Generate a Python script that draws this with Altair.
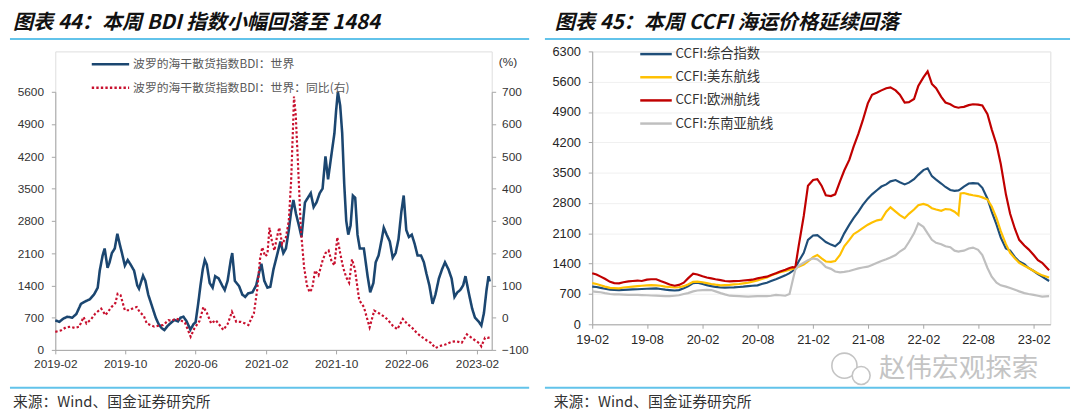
import altair as alt
import pandas as pd

# ---------------- data ----------------
bdi_dates = [
    "2019-02-01", "2019-02-15", "2019-03-01", "2019-03-15", "2019-04-01", "2019-04-15", "2019-05-01", "2019-05-15",
    "2019-06-01", "2019-06-15", "2019-06-28", "2019-07-05", "2019-07-15", "2019-07-22", "2019-08-01", "2019-08-08",
    "2019-08-16", "2019-08-26", "2019-09-04", "2019-09-12", "2019-09-20", "2019-09-30", "2019-10-10", "2019-10-20",
    "2019-11-01", "2019-11-12", "2019-11-18", "2019-12-02", "2019-12-10", "2019-12-20", "2020-01-02", "2020-01-15",
    "2020-01-25", "2020-02-05", "2020-02-14", "2020-02-25", "2020-03-10", "2020-03-20", "2020-04-01", "2020-04-10",
    "2020-04-20", "2020-05-01", "2020-05-14", "2020-05-25", "2020-06-01", "2020-06-10", "2020-06-18", "2020-06-26",
    "2020-07-03", "2020-07-10", "2020-07-20", "2020-07-30", "2020-08-08", "2020-08-20", "2020-09-01", "2020-09-10",
    "2020-09-20", "2020-10-01", "2020-10-06", "2020-10-15", "2020-10-30", "2020-11-10", "2020-11-20", "2020-12-01",
    "2020-12-15", "2020-12-28", "2021-01-08", "2021-01-15", "2021-01-25", "2021-02-05", "2021-02-15", "2021-02-26",
    "2021-03-10", "2021-03-22", "2021-04-01", "2021-04-10", "2021-04-20", "2021-04-28", "2021-05-06", "2021-05-15",
    "2021-05-25", "2021-06-03", "2021-06-15", "2021-06-25", "2021-07-05", "2021-07-15", "2021-07-25", "2021-08-05",
    "2021-08-15", "2021-08-25", "2021-09-03", "2021-09-15", "2021-09-25", "2021-10-01", "2021-10-07", "2021-10-15",
    "2021-10-22", "2021-10-29", "2021-11-05", "2021-11-12", "2021-11-20", "2021-11-28", "2021-12-06", "2021-12-14",
    "2021-12-22", "2022-01-05", "2022-01-18", "2022-01-27", "2022-02-07", "2022-02-15", "2022-02-25", "2022-03-08",
    "2022-03-15", "2022-03-25", "2022-04-05", "2022-04-15", "2022-04-25", "2022-05-05", "2022-05-15", "2022-05-23",
    "2022-06-01", "2022-06-10", "2022-06-20", "2022-06-30", "2022-07-10", "2022-07-22", "2022-08-01", "2022-08-10",
    "2022-08-20", "2022-08-31", "2022-09-10", "2022-09-22", "2022-10-03", "2022-10-13", "2022-10-25", "2022-11-05",
    "2022-11-15", "2022-11-25", "2022-12-05", "2022-12-15", "2022-12-23", "2023-01-03", "2023-01-15", "2023-01-25",
    "2023-02-06", "2023-02-16", "2023-02-25", "2023-03-06", "2023-03-13", "2023-03-17",
]
bdi_values = [
    640, 610, 680, 720, 700, 780, 1000, 1050,
    1100, 1200, 1350, 1720, 2050, 2200, 1780, 1900,
    2100, 2200, 2520, 2300, 2100, 1830, 1950, 1850,
    1720, 1400, 1330, 1610, 1500, 1200, 950, 700,
    560, 470, 430, 520, 600, 650, 620, 700,
    720, 620, 440, 560, 600, 1000, 1400, 1750,
    1950, 1850, 1450, 1350, 1600, 1550, 1400, 1300,
    1500, 1950, 2100, 1500, 1380, 1200, 1150, 1230,
    1250, 1400, 1700, 1870, 1500, 1350, 1370, 1750,
    2050, 2350, 2100, 2200, 2600, 3000, 3250, 2950,
    2700, 2450, 3200, 3300, 3400, 3100, 3200, 3400,
    3500, 4200, 3700, 4250, 4700, 5200, 5600, 5300,
    4700, 3600, 2800, 2500, 2700, 3350, 3300, 2500,
    2200, 2200, 1600, 1250, 1450, 1900, 2050, 2400,
    2650, 2500, 2350, 2000, 2100, 2400, 3000, 3350,
    2600, 2450, 2500, 2300, 2050, 2050, 1900, 1650,
    1400, 1000, 1200, 1550, 1750, 1900, 1750, 1550,
    1150, 1250, 1300, 1400, 1600, 1250, 900, 700,
    620, 530, 800, 1300, 1600, 1484,
]

yoy_dates = [
    "2019-02-01", "2019-02-20", "2019-03-10", "2019-03-25", "2019-04-10", "2019-04-25", "2019-05-10", "2019-05-20",
    "2019-06-05", "2019-06-20", "2019-07-10", "2019-07-25", "2019-08-15", "2019-08-28", "2019-09-05", "2019-09-15",
    "2019-09-30", "2019-10-15", "2019-10-30", "2019-11-10", "2019-11-20", "2019-12-05", "2019-12-15", "2020-01-10",
    "2020-01-25", "2020-02-10", "2020-02-28", "2020-03-10", "2020-03-25", "2020-04-10", "2020-04-25", "2020-05-15",
    "2020-05-28", "2020-06-15", "2020-06-28", "2020-07-10", "2020-07-25", "2020-08-10", "2020-08-25", "2020-09-05",
    "2020-09-20", "2020-10-05", "2020-10-20", "2020-11-05", "2020-11-20", "2020-12-01", "2020-12-10", "2020-12-20",
    "2021-01-01", "2021-01-10", "2021-01-18", "2021-01-28", "2021-02-05", "2021-02-12", "2021-02-20", "2021-03-01",
    "2021-03-10", "2021-03-18", "2021-03-28", "2021-04-10", "2021-04-20", "2021-04-28", "2021-05-05", "2021-05-08",
    "2021-05-14", "2021-05-22", "2021-06-01", "2021-06-12", "2021-06-22", "2021-07-01", "2021-07-10", "2021-07-20",
    "2021-08-01", "2021-08-15", "2021-08-25", "2021-09-05", "2021-09-15", "2021-09-25", "2021-10-05", "2021-10-15",
    "2021-10-25", "2021-11-05", "2021-11-15", "2021-11-25", "2021-12-05", "2021-12-20", "2022-01-05", "2022-01-25",
    "2022-02-10", "2022-03-01", "2022-03-20", "2022-04-01", "2022-04-15", "2022-05-01", "2022-05-20", "2022-06-05",
    "2022-06-20", "2022-07-05", "2022-07-20", "2022-08-10", "2022-08-25", "2022-09-10", "2022-09-25", "2022-10-15",
    "2022-11-05", "2022-11-20", "2022-12-10", "2022-12-28", "2023-01-20", "2023-02-10", "2023-02-16", "2023-03-01",
    "2023-03-10", "2023-03-17",
]
yoy_values = [
    -44, -40, -30, -28, -32, -28, 2, -18,
    -5, 13, 28, 8, 33, 45, 74, 70,
    23, 23, 30, 33, 18, 5, -18, -28,
    -25, -23, -8, -10, -3, -8, -15, -59,
    -33, -10, 33, 15, -18, -8, -25, -38,
    -20, 18, -13, -13, -18, -23, -5, 13,
    90, 180, 218, 190, 197, 279, 240, 208,
    250, 279, 228, 249, 300, 423, 600, 685,
    628, 474, 269, 156, 100, 79, 90, 146,
    131, 177, 200, 208, 175, 162, 249, 200,
    156, 125, 108, 181, 150, 54, 33, -30,
    22, 12, 1, -10, -25, -36, -4, -20,
    -30, -45, -57, -70, -78, -94, -88, -83,
    -75, -73, -78, -52, -67, -80, -89, -62,
    -63, -61,
]

ccfi_dates = [
    "2019-02-01", "2019-02-15", "2019-03-01", "2019-03-15", "2019-04-01", "2019-04-15", "2019-05-01", "2019-05-15",
    "2019-06-01", "2019-06-15", "2019-07-01", "2019-07-15", "2019-08-01", "2019-08-15", "2019-09-01", "2019-09-15",
    "2019-10-01", "2019-10-15", "2019-11-01", "2019-11-15", "2019-12-01", "2019-12-15", "2020-01-01", "2020-01-15",
    "2020-02-01", "2020-02-15", "2020-03-01", "2020-03-15", "2020-04-01", "2020-04-15", "2020-05-01", "2020-05-15",
    "2020-06-01", "2020-06-15", "2020-07-01", "2020-07-15", "2020-08-01", "2020-08-15", "2020-09-01", "2020-09-15",
    "2020-10-01", "2020-10-15", "2020-11-01", "2020-11-15", "2020-11-25", "2020-12-04", "2020-12-15", "2021-01-01",
    "2021-01-15", "2021-02-01", "2021-02-15", "2021-03-01", "2021-03-15", "2021-04-01", "2021-04-15", "2021-05-01",
    "2021-05-15", "2021-06-01", "2021-06-15", "2021-07-01", "2021-07-15", "2021-08-01", "2021-08-15", "2021-09-01",
    "2021-09-15", "2021-10-01", "2021-10-15", "2021-11-01", "2021-11-15", "2021-12-01", "2021-12-15", "2022-01-01",
    "2022-01-15", "2022-02-01", "2022-02-15", "2022-03-01", "2022-03-15", "2022-04-01", "2022-04-15", "2022-05-01",
    "2022-05-15", "2022-05-28", "2022-06-04", "2022-06-15", "2022-07-01", "2022-07-15", "2022-08-01", "2022-08-15",
    "2022-09-01", "2022-09-15", "2022-10-01", "2022-10-15", "2022-11-01", "2022-11-15", "2022-12-01", "2022-12-15",
    "2023-01-01", "2023-01-15", "2023-02-01", "2023-02-15", "2023-03-01", "2023-03-24",
]
ccfi_composite = [
    870, 860, 840, 820, 800, 795, 790, 795,
    800, 805, 810, 815, 820, 825, 830, 815,
    800, 790, 780, 790, 830, 880, 950, 960,
    930, 905, 880, 865, 850, 848, 850, 852,
    860, 868, 880, 890, 900, 930, 960, 1000,
    1040, 1080, 1130, 1180, 1230, 1300, 1450, 1650,
    1950, 2050, 2060, 1980, 1900, 1840, 1800, 1900,
    2100, 2300, 2450, 2600, 2750, 2900, 3000, 3100,
    3180, 3230, 3300, 3330, 3280, 3230, 3270, 3350,
    3450, 3560, 3600, 3420, 3340, 3250, 3170, 3100,
    3080, 3090, 3120, 3180, 3250, 3260, 3250, 3150,
    2900, 2600, 2300, 2000, 1750, 1700, 1550, 1450,
    1390, 1300, 1230, 1160, 1100, 1000,
]
ccfi_us_east = [
    950, 930, 900, 870, 840, 835, 830, 850,
    860, 870, 880, 890, 900, 905, 900, 890,
    870, 860, 850, 855, 880, 920, 980, 985,
    970, 950, 930, 915, 900, 905, 910, 920,
    930, 945, 960, 985, 1010, 1045, 1080, 1125,
    1170, 1200, 1230, 1260, 1280, 1300, 1330, 1380,
    1450, 1550, 1600, 1520, 1450, 1440, 1460, 1600,
    1800, 1950, 2080, 2150, 2220, 2300, 2350, 2400,
    2420, 2600, 2700, 2600, 2520, 2450, 2550, 2650,
    2750, 2780, 2750, 2680, 2650, 2620, 2660, 2650,
    2600, 2520, 3020, 3030, 3000, 2980, 2960, 2930,
    2880, 2720, 2450, 2150, 1850, 1650, 1520, 1420,
    1350, 1300, 1230, 1180, 1130, 1080,
]
ccfi_europe = [
    1180, 1150, 1100, 1050, 980, 950, 945, 970,
    990, 1000, 1010, 1000, 1030, 1040, 1040, 1000,
    960, 920, 890, 910, 960, 1060, 1170, 1150,
    1110, 1080, 1060, 1040, 1020, 1000, 990, 995,
    1000, 1010, 1020, 1030, 1060, 1080, 1100, 1140,
    1180, 1220, 1260, 1300, 1320, 1310, 1800, 2500,
    3200, 3330, 3350, 3200, 2980, 2960, 3000, 3300,
    3550, 3800, 4100, 4400, 4700, 5100, 5300, 5350,
    5400, 5450, 5470, 5400, 5300, 5120, 5130, 5200,
    5500, 5700, 5840, 5550, 5450, 5250, 5120, 5080,
    5020, 5000, 5010, 5020, 5060, 5080, 5070, 5050,
    4850, 4500, 4150, 3700, 3000, 2550, 2200, 1950,
    1820, 1730, 1600, 1480, 1420, 1250,
]
ccfi_sea = [
    760, 750, 740, 720, 700, 690, 690, 685,
    680, 680, 680, 675, 670, 665, 660, 655,
    650, 650, 660, 670, 700, 720, 760, 780,
    790, 795, 790, 760, 720, 690, 660, 655,
    650, 645, 640, 645, 650, 650, 650, 660,
    680, 670, 660, 700, 1000, 1260, 1350, 1420,
    1480, 1520, 1500, 1420, 1320, 1280, 1220, 1200,
    1210, 1230, 1260, 1290, 1310, 1330, 1370, 1420,
    1460, 1500, 1540, 1600, 1680, 1750, 1900, 2100,
    2330, 2250, 2100, 1950, 1880, 1850, 1800, 1780,
    1700, 1680, 1690, 1700, 1750, 1770, 1720, 1600,
    1300, 1100, 960, 900, 870, 840, 800, 760,
    720, 700, 680, 660, 640, 650,
]

bdi_labels = ["波罗的海干散货指数BDI：世界", "波罗的海干散货指数BDI：世界：同比(右)"]
ccfi_labels = ["CCFI:综合指数", "CCFI:美东航线", "CCFI:欧洲航线", "CCFI:东南亚航线"]
titles = ["图表 44：本周 BDI 指数小幅回落至 1484", "图表 45：本周 CCFI 海运价格延续回落"]
source_text = "来源：Wind、国金证券研究所"
watermark = "赵伟宏观探索"
pct_title = "(%)"

bdi_ticks = [0, 700, 1400, 2100, 2800, 3500, 4200, 4900, 5600]
yoy_ticks = [-100, 0, 100, 200, 300, 400, 500, 600, 700]
ccfi_ticks = [0, 700, 1400, 2100, 2800, 3500, 4200, 4900, 5600, 6300]
left_x_ticks = ["2019-02-01", "2019-10-01", "2020-06-01", "2021-02-01", "2021-10-01", "2022-06-01", "2023-02-01"]
right_x_ticks = ["2019-02-01", "2019-08-01", "2020-02-01", "2020-08-01", "2021-02-01", "2021-08-01",
                 "2022-02-01", "2022-08-01", "2023-02-01"]

# ---------------- styles ----------------
FONT_NUM = "Liberation Sans, Arial, sans-serif"
FONT_CJK = "Noto Sans CJK SC"
AX = "#a6a6a6"
LBL = "#333333"
SEP = "#62c3ea"
BDI_COLORS = ["#1b4670", "#c8102e"]
CCFI_COLORS = ["#1f4e79", "#ffc000", "#c00000", "#bfbfbf"]

# both panels share the same plot origin row; the left plot's value range
# only occupies the lower part of its (taller) plot area, as in the reference
LEFT_H = 303
LEFT_TOP = 41


def dt(s):
    y, m, d = (int(p) for p in s.split("-"))
    return alt.DateTime(year=y, month=m, date=d)


def text_layer(txt, x, y, size, color, font=FONT_CJK, weight="normal", style="normal"):
    return alt.Chart(pd.DataFrame({"t": [txt]})).mark_text(
        align="left", baseline="middle", fontSize=size, color=color, font=font,
        fontWeight=weight, fontStyle=style
    ).encode(text="t:N", x=alt.value(x), y=alt.value(y))


def rule_layer(x1, x2, y, color, width):
    return alt.Chart(pd.DataFrame({"k": [0]})).mark_rule(color=color, strokeWidth=width).encode(
        x=alt.value(x1), x2=alt.value(x2), y=alt.value(y))


# ---------------- left panel: BDI ----------------
bdi_df = pd.DataFrame({"date": pd.to_datetime(bdi_dates), "value": bdi_values, "series": bdi_labels[0]})
yoy_df = pd.DataFrame({"date": pd.to_datetime(yoy_dates), "value": yoy_values, "series": bdi_labels[1]})

xL = alt.X("date:T", title=None,
           scale=alt.Scale(domain=[dt("2019-02-01"), dt("2023-03-24")]),
           axis=alt.Axis(values=[dt(s) for s in left_x_ticks], format="%Y-%m", labelFont=FONT_NUM,
                         labelFontSize=12, labelColor=LBL, domainColor=AX, tickColor=AX, tickSize=4,
                         labelPadding=5, grid=False, labelFlush=False, labelOverlap=False))

leg_l = alt.Legend(title=None, orient="none", legendX=50, legendY=7, direction="vertical",
                   symbolType="M-4,0H4", symbolSize=90, symbolStrokeWidth=2.5,
                   labelFont=FONT_CJK, labelFontSize=12, labelColor="#595959", labelOffset=17,
                   rowPadding=12, padding=0, labelLimit=500)
color_l = alt.Color("series:N", scale=alt.Scale(domain=bdi_labels, range=BDI_COLORS), legend=leg_l)
dash_l = alt.StrokeDash("series:N", scale=alt.Scale(domain=bdi_labels, range=[[1, 0], [2.4, 2.2]]), legend=leg_l)

bdi_line = alt.Chart(bdi_df).mark_line(strokeWidth=2.6).encode(
    x=xL,
    y=alt.Y("value:Q", title=None, scale=alt.Scale(domain=[0, 5600], range=[LEFT_H, LEFT_TOP]),
            axis=alt.Axis(orient="left", values=bdi_ticks, format="d", labelFont=FONT_NUM, labelFontSize=12,
                          labelColor=LBL, domainColor=AX, tickColor=AX, tickSize=4, labelPadding=8, grid=False)),
    color=color_l, strokeDash=dash_l,
)
yoy_line = alt.Chart(yoy_df).mark_line(strokeWidth=2.2, strokeCap="butt").encode(
    x=xL,
    y=alt.Y("value:Q", scale=alt.Scale(domain=[-100, 700], range=[LEFT_H, LEFT_TOP]),
            axis=alt.Axis(orient="right", values=yoy_ticks, format="d", title=pct_title, titleAngle=0,
                          titleX=16, titleY=10, titleAlign="center", titleBaseline="middle",
                          titleFont=FONT_NUM, titleFontSize=12, titleFontWeight="normal", titleColor=LBL,
                          labelFont=FONT_NUM, labelFontSize=12, labelColor=LBL, domainColor=AX,
                          tickColor=AX, tickSize=4, labelPadding=6, grid=False)),
    color=color_l, strokeDash=dash_l,
)

left = alt.layer(
    rule_layer(-46, 0, -39.5, "white", 1),
    text_layer(titles[0], -43, -29, 20.5, "#111111", weight="bold", style="italic"),
    rule_layer(-46, 481, -12.5, SEP, 2),
    bdi_line,
    yoy_line,
    rule_layer(-46, 481, 341.5, SEP, 2),
    text_layer(source_text, -43, 356, 15, "#333333"),
).resolve_scale(y="independent").properties(width=443, height=LEFT_H)

# ---------------- right panel: CCFI ----------------
rows = []
for lab, vals in zip(ccfi_labels, [ccfi_composite, ccfi_us_east, ccfi_europe, ccfi_sea]):
    for d, v in zip(ccfi_dates, vals):
        rows.append({"date": d, "value": v, "route": lab})
ccfi_df = pd.DataFrame(rows)
ccfi_df["date"] = pd.to_datetime(ccfi_df["date"])

leg_r = alt.Legend(title=None, orient="none", legendX=58, legendY=-4, direction="vertical",
                   symbolType="M-4,0H4", symbolSize=64, symbolStrokeWidth=2.5,
                   labelFont=FONT_CJK, labelFontSize=13.5, labelColor="#333333", labelOffset=13,
                   rowPadding=8.5, padding=0, labelLimit=500)

ccfi_lines = alt.Chart(ccfi_df).mark_line(strokeWidth=2.2).encode(
    x=alt.X("date:T", title=None,
            scale=alt.Scale(domain=[dt("2019-02-01"), dt("2023-03-28")]),
            axis=alt.Axis(values=[dt(s) for s in right_x_ticks], format="%y-%m", labelFont=FONT_NUM,
                          labelFontSize=13, labelColor="#262626", domainColor=AX, tickColor=AX, tickSize=4,
                          labelPadding=6, grid=False, labelFlush=False, labelOverlap=False)),
    y=alt.Y("value:Q", title=None, scale=alt.Scale(domain=[0, 6300]),
            axis=alt.Axis(values=ccfi_ticks, format="d", labelFont=FONT_NUM, labelFontSize=13,
                          labelColor="#262626", domainColor=AX, tickColor=AX, tickSize=4, labelPadding=8,
                          grid=True, gridColor="#f0f0f0")),
    color=alt.Color("route:N", scale=alt.Scale(domain=ccfi_labels, range=CCFI_COLORS), legend=leg_r),
)

icon_big = alt.Chart(pd.DataFrame({"k": [0]})).mark_point(
    shape="circle", size=650, filled=False, color="#c4c4c4", strokeWidth=1.6, opacity=1
).encode(x=alt.value(256), y=alt.value(319))
icon_small = alt.Chart(pd.DataFrame({"k": [0]})).mark_point(
    shape="circle", size=330, filled=True, fill="white", stroke="#c4c4c4", strokeWidth=1.6, opacity=1
).encode(x=alt.value(273), y=alt.value(329))

right = alt.layer(
    rule_layer(-48, 0, -39.5, "white", 1),
    text_layer(titles[1], -38, -29, 20.5, "#111111", weight="bold", style="italic"),
    rule_layer(-48, 485, -12.5, SEP, 2),
    ccfi_lines,
    icon_big,
    icon_small,
    text_layer(watermark, 291, 322, 27, "#c4c4c4"),
    rule_layer(-48, 485, 341.5, SEP, 2),
    text_layer(source_text, -39, 356, 15, "#333333"),
).properties(width=465, height=277)

chart = alt.hconcat(left, right, spacing=12).resolve_scale(
    color="independent", strokeDash="independent"
).resolve_legend(color="independent", strokeDash="independent").properties(
    padding=0).configure_view(stroke=None).configure(background="white")

chart.save("out.html", embed_options={"renderer": "svg", "actions": False})
